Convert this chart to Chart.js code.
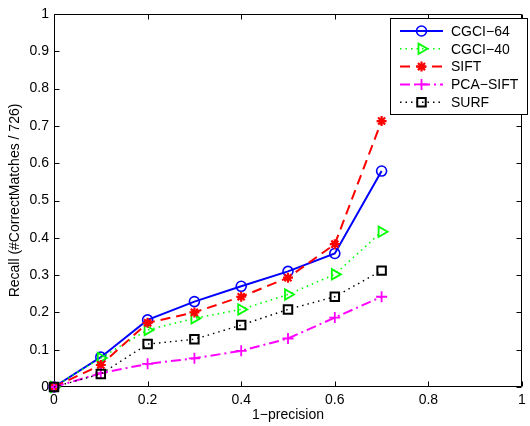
<!DOCTYPE html>
<html>
<head>
<meta charset="utf-8">
<script src="https://cdn.jsdelivr.net/npm/chart.js@4/dist/chart.umd.min.js"></script>
<style>
  html, body { margin: 0; padding: 0; background: #fff; }
  canvas { display: block; }
</style>
</head>
<body>
<canvas id="c" width="530" height="426"></canvas>
<script>
// ---- data ----
const xValues   = [0, 0.1, 0.2, 0.3, 0.4, 0.5, 0.6, 0.7];
const cgci64    = [0, 0.080, 0.180, 0.229, 0.270, 0.310, 0.358, 0.579];
const cgci40    = [0, 0.078, 0.153, 0.184, 0.208, 0.248, 0.302, 0.416];
const sift      = [0, 0.059, 0.172, 0.200, 0.242, 0.293, 0.383, 0.713];
const pcaSift   = [0, 0.037, 0.062, 0.077, 0.097, 0.130, 0.186, 0.242];
const surf      = [0, 0.035, 0.115, 0.128, 0.166, 0.208, 0.242, 0.312];
const seriesNames = ['CGCI\u221264', 'CGCI\u221240', 'SIFT', 'PCA\u2212SIFT', 'SURF'];
const xTickValues = [0, 0.2, 0.4, 0.6, 0.8, 1];
const xTickLabels = ['0', '0.2', '0.4', '0.6', '0.8', '1'];
const yTickValues = [0, 0.1, 0.2, 0.3, 0.4, 0.5, 0.6, 0.7, 0.8, 0.9, 1];
const yTickLabels = ['0', '0.1', '0.2', '0.3', '0.4', '0.5', '0.6', '0.7', '0.8', '0.9', '1'];
const xTitle = '1\u2212precision';
const yTitle = 'Recall (#CorrectMatches / 726)';

const FONT = 'Liberation Sans, Arial, Helvetica, sans-serif';

function pts(ys) { return xValues.map((x, i) => ({x: x, y: ys[i]})); }

const datasets = [
  { label: seriesNames[0], data: pts(cgci64), borderColor: '#0000ff', backgroundColor: 'rgba(0,0,0,0)',
    borderWidth: 2, borderDash: [], pointStyle: 'circle', pointRadius: 5, pointBorderWidth: 1.6, pointRotation: 0, order: 5 },
  { label: seriesNames[1], data: pts(cgci40), borderColor: '#00ff00', backgroundColor: 'rgba(0,0,0,0)',
    borderWidth: 1.6, borderDash: [1.5, 4], pointStyle: 'triangle', pointRadius: 6, pointBorderWidth: 1.8, pointRotation: 90, order: 4 },
  { label: seriesNames[2], data: pts(sift), borderColor: '#ff0000', backgroundColor: 'rgba(0,0,0,0)',
    borderWidth: 2, borderDash: [10, 6], pointStyle: 'star', pointRadius: 5, pointBorderWidth: 2.2, pointRotation: 0, order: 3 },
  { label: seriesNames[3], data: pts(pcaSift), borderColor: '#ff00ff', backgroundColor: 'rgba(0,0,0,0)',
    borderWidth: 2, borderDash: [10, 4, 2, 4], pointStyle: 'cross', pointRadius: 5.5, pointBorderWidth: 1.8, pointRotation: 0, order: 2 },
  { label: seriesNames[4], data: pts(surf), borderColor: '#000000', backgroundColor: 'rgba(0,0,0,0)',
    borderWidth: 1.4, borderDash: [1.5, 4], pointStyle: 'rect', pointRadius: 6, pointBorderWidth: 2, pointRotation: 0, order: 1 }
];
datasets.forEach(d => {
  d.pointBorderColor = d.borderColor;
  d.pointBackgroundColor = 'rgba(0,0,0,0)';
  d.tension = 0;
  d.clip = false;
  d.fill = false;
});

const framePlugin = {
  id: 'frame',
  beforeDatasetsDraw(chart) {
    const {ctx, chartArea: a, scales: {x, y}} = chart;
    ctx.save();
    ctx.strokeStyle = '#000';
    ctx.lineWidth = 1;
    ctx.beginPath();
    const L = Math.round(a.left) + 0.5, R = Math.round(a.right) - 0.5;
    const T = Math.round(a.top) + 0.5, B = Math.round(a.bottom) - 0.5;
    ctx.rect(L, T, R - L, B - T);
    const tl = 5;
    xTickValues.forEach(v => {
      const px = Math.round(x.getPixelForValue(v)) + 0.5;
      ctx.moveTo(px, B); ctx.lineTo(px, B - tl);
      ctx.moveTo(px, T); ctx.lineTo(px, T + tl);
    });
    yTickValues.forEach(v => {
      const py = Math.round(y.getPixelForValue(v)) + 0.5;
      ctx.moveTo(L, py); ctx.lineTo(L + tl, py);
      ctx.moveTo(R, py); ctx.lineTo(R - tl, py);
    });
    ctx.stroke();
    ctx.restore();
  }
};

const legendPlugin = {
  id: 'matlabLegend',
  afterDraw(chart) {
    const ctx = chart.ctx;
    const box = {x: 390.5, y: 18.5, w: 137, h: 96};
    ctx.save();
    ctx.fillStyle = '#fff';
    ctx.fillRect(box.x, box.y, box.w, box.h);
    ctx.strokeStyle = '#000';
    ctx.lineWidth = 1;
    ctx.strokeRect(box.x, box.y, box.w, box.h);
    const rowY0 = 31, rowStep = 17.8;
    const lx0 = 400, lx1 = 443, tx = 451;
    chart.data.datasets.forEach((d, i) => {
      const yy = rowY0 + i * rowStep;
      ctx.save();
      ctx.strokeStyle = d.borderColor;
      ctx.lineWidth = d.borderWidth;
      ctx.setLineDash(d.borderDash || []);
      ctx.beginPath();
      ctx.moveTo(lx0, yy); ctx.lineTo(lx1, yy);
      ctx.stroke();
      ctx.restore();
      ctx.save();
      ctx.setLineDash([]);
      ctx.strokeStyle = d.borderColor;
      ctx.fillStyle = 'rgba(0,0,0,0)';
      ctx.lineWidth = d.pointBorderWidth;
      Chart.helpers.drawPoint(ctx, {
        pointStyle: d.pointStyle, rotation: d.pointRotation,
        radius: d.pointRadius, borderWidth: d.pointBorderWidth
      }, (lx0 + lx1) / 2, yy);
      ctx.restore();
      ctx.fillStyle = '#000';
      ctx.font = '14px ' + FONT;
      ctx.textBaseline = 'middle';
      ctx.textAlign = 'left';
      ctx.fillText(d.label, tx, yy + 1);
    });
    ctx.restore();
  }
};

new Chart(document.getElementById('c'), {
  type: 'line',
  data: { datasets: datasets },
  options: {
    responsive: false,
    animation: false,
    devicePixelRatio: 1,
    layout: { padding: { top: 14, right: 1, left: 0, bottom: 0 } },
    plugins: { legend: { display: false }, tooltip: { enabled: false } },
    elements: { line: { borderCapStyle: 'butt' } },
    scales: {
      x: {
        type: 'linear', min: 0, max: 1,
        grid: { display: false, drawTicks: false },
        border: { display: false },
        afterBuildTicks: s => { s.ticks = xTickValues.map(v => ({value: v})); },
        ticks: { color: '#000', font: { family: FONT, size: 14 }, padding: 5, maxRotation: 0, autoSkip: false,
                 callback: (v, i) => xTickLabels[i] },
        title: { display: true, text: xTitle, color: '#000', font: { family: FONT, size: 14 }, padding: { top: 0, bottom: 2.5 } },
        afterFit: s => { s.height = 39; s.paddingLeft = 0; s.paddingRight = 0; }
      },
      y: {
        type: 'linear', min: 0, max: 1,
        grid: { display: false, drawTicks: false },
        border: { display: false },
        afterBuildTicks: s => { s.ticks = yTickValues.map(v => ({value: v})); },
        ticks: { color: '#000', font: { family: FONT, size: 14 }, padding: 5, autoSkip: false,
                 callback: (v, i) => yTickLabels[i] },
        title: { display: true, text: yTitle, color: '#000', font: { family: FONT, size: 14 }, padding: { top: 6.5, bottom: 0 } },
        afterFit: s => { s.width = 54; s.paddingTop = 0; s.paddingBottom = 0; }
      }
    }
  },
  plugins: [framePlugin, legendPlugin]
});
</script>
</body>
</html>
